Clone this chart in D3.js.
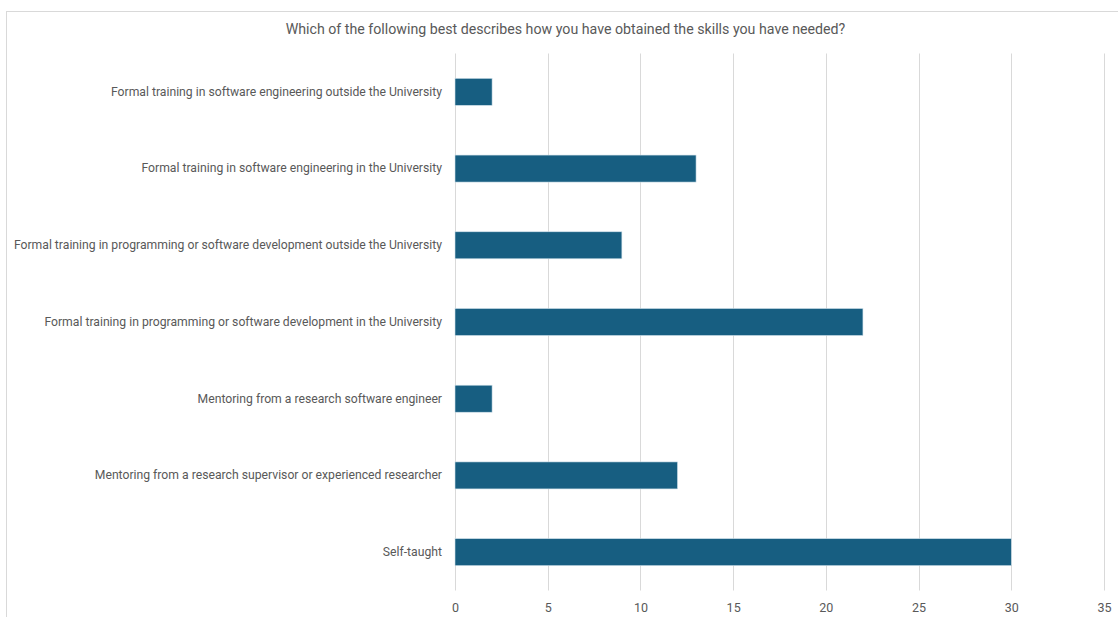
<!DOCTYPE html>
<html>
<head>
<meta charset="utf-8">
<script src="https://cdn.jsdelivr.net/npm/d3@7/dist/d3.min.js"></script>
<style>
  html, body { margin: 0; padding: 0; background: #fff; }
  svg { display: block; }
  text { font-family: Roboto, "Liberation Sans", sans-serif; fill: #595959; }
</style>
</head>
<body>
<svg id="chart" width="1118" height="617"></svg>
<script>
// Survey responses: how respondents obtained the skills they needed
const categories = [
  "Formal training in software engineering outside the University",
  "Formal training in software engineering in the University",
  "Formal training in programming or software development outside the University",
  "Formal training in programming or software development in the University",
  "Mentoring from a research software engineer",
  "Mentoring from a research supervisor or experienced researcher",
  "Self-taught"
];
const counts = [2, 13, 9, 22, 2, 12, 30];
const xTicks = [0, 5, 10, 15, 20, 25, 30, 35];
const title = "Which of the following best describes how you have obtained the skills you have needed?";

const svg = d3.select("#chart");

// Chart frame
svg.append("rect")
  .attr("x", 6.5).attr("y", 11.5)
  .attr("width", 1130).attr("height", 620)
  .attr("fill", "#fff")
  .attr("stroke", "#d9d9d9").attr("stroke-width", 1);

const plot = { left: 455, right: 1104, top: 53.5, bottom: 590.5 };

const x = d3.scaleLinear().domain([0, 35]).range([plot.left, plot.right]);
const y = d3.scaleBand().domain(categories)
  .range([plot.top, plot.bottom])
  .paddingInner(0.648).paddingOuter(0.324);

// Vertical gridlines
svg.append("g").selectAll("line").data(xTicks).join("line")
  .attr("x1", d => Math.round(x(d)) + 0.5).attr("x2", d => Math.round(x(d)) + 0.5)
  .attr("y1", plot.top).attr("y2", plot.bottom)
  .attr("stroke", "#d9d9d9").attr("stroke-width", 1);

// Bars
svg.append("g").selectAll("rect").data(categories).join("rect")
  .attr("x", x(0))
  .attr("y", d => y(d))
  .attr("width", (d, i) => x(counts[i]) - x(0))
  .attr("height", y.bandwidth())
  .attr("fill", "#175e81")
  .attr("stroke", "#cfe0ea").attr("stroke-width", 0.6);

// X axis tick labels
const xAxis = d3.axisBottom(x).tickValues(xTicks).tickSize(0).tickPadding(0);
const gx = svg.append("g").attr("transform", `translate(0,${plot.bottom + 13})`).call(xAxis);
gx.select(".domain").remove();
gx.selectAll("text")
  .attr("font-family", "Roboto, 'Liberation Sans', sans-serif")
  .attr("font-size", 12.5).attr("fill", "#595959").attr("dy", "0.71em");

// Category labels
const yAxis = d3.axisLeft(y).tickSize(0).tickPadding(13);
const gy = svg.append("g").attr("transform", `translate(${plot.left},0)`).call(yAxis);
gy.select(".domain").remove();
gy.selectAll("text")
  .attr("font-family", "Roboto, 'Liberation Sans', sans-serif")
  .attr("font-size", 12.2).attr("fill", "#595959");

// Title
svg.append("text")
  .attr("x", 565.5).attr("y", 30)
  .attr("text-anchor", "middle").attr("dominant-baseline", "middle")
  .attr("font-size", 14.2)
  .text(title);
</script>
</body>
</html>
